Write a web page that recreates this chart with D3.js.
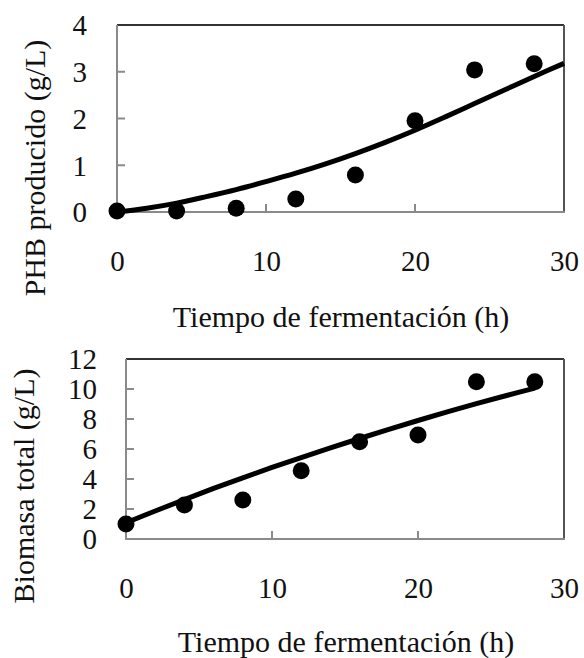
<!DOCTYPE html>
<html>
<head>
<meta charset="utf-8">
<script src="https://cdn.jsdelivr.net/npm/d3@7"></script>
<style>
  html, body { margin: 0; padding: 0; background: #fff; }
  svg { display: block; }
  svg text { font-family: "Liberation Serif", "DejaVu Serif", serif !important; }
</style>
</head>
<body>
<svg id="chart" width="584" height="658"></svg>
<script>
// Fermentation time of the samples (h)
const hours = [0, 4, 8, 12, 16, 20, 24, 28];
// Measured PHB (g/L) and total biomass (g/L)
const phbMeasured = [0.02, 0.02, 0.08, 0.28, 0.79, 1.95, 3.04, 3.17];
const biomassMeasured = [1.0, 2.27, 2.6, 4.55, 6.49, 6.93, 10.49, 10.49];

// Model curves (g/L)
const phbModelHours = [0, 2, 4, 6, 8, 10, 12, 14, 16, 18, 20, 22, 24, 26, 28, 30];
const phbModel = [0.0, 0.08, 0.19, 0.33, 0.48, 0.65, 0.83, 1.03, 1.25, 1.49, 1.75, 2.03, 2.32, 2.61, 2.9, 3.18];
const biomassModelHours = [0, 2, 4, 6, 8, 10, 12, 14, 16, 18, 20, 22, 24, 26, 28];
const biomassModel = [1.08, 1.87, 2.63, 3.37, 4.08, 4.77, 5.43, 6.07, 6.7, 7.31, 7.9, 8.47, 9.02, 9.55, 10.06];

// Axis ticks
const xTicks = [0, 10, 20, 30];
const phbTicks = [0, 1, 2, 3, 4];
const biomassTicks = [0, 2, 4, 6, 8, 10, 12];

const xTitle = "Tiempo de fermentación (h)";

const svg = d3.select("#chart");

function panel(opts) {
  const { left, right, top, bottom, yMax, yTicks, xs, ys, fitX, fitY,
          yTitle, yTitleX, yTitleY, xTitleY, xTitleX, xLabelPad, yLabelPad } = opts;
  const x = d3.scaleLinear().domain([0, 30]).range([left, right]);
  const y = d3.scaleLinear().domain([0, yMax]).range([bottom, top]);
  const g = svg.append("g");

  // inside tick marks
  const tickLen = 8;
  g.append("g").selectAll("line").data(yTicks.slice(1, -1)).join("line")
    .attr("x1", left).attr("x2", left + tickLen)
    .attr("y1", d => y(d)).attr("y2", d => y(d))
    .attr("stroke", "#8a8a8a").attr("stroke-width", 2);
  g.append("g").selectAll("line").data(xTicks.slice(1, -1)).join("line")
    .attr("x1", d => x(d)).attr("x2", d => x(d))
    .attr("y1", bottom).attr("y2", bottom - tickLen)
    .attr("stroke", "#8a8a8a").attr("stroke-width", 2);

  // frame
  g.append("line").attr("x1", left).attr("x2", right).attr("y1", top).attr("y2", top)
    .attr("stroke", "#333").attr("stroke-width", 2);
  g.append("line").attr("x1", right).attr("x2", right).attr("y1", top).attr("y2", bottom)
    .attr("stroke", "#555").attr("stroke-width", 2);
  g.append("line").attr("x1", left).attr("x2", left).attr("y1", top).attr("y2", bottom + 1)
    .attr("stroke", "#8a8a8a").attr("stroke-width", 2);
  g.append("line").attr("x1", left - 1).attr("x2", right + 1).attr("y1", bottom).attr("y2", bottom)
    .attr("stroke", "#8a8a8a").attr("stroke-width", 2);

  // tick labels via d3 axes
  const ya = g.append("g").attr("transform", `translate(${left},0)`)
    .call(d3.axisLeft(y).tickValues(yTicks).tickSize(0).tickPadding(yLabelPad).tickFormat(d3.format("d")));
  ya.attr("font-size", 29);
  ya.select(".domain").remove();
  ya.selectAll("text").attr("fill", "#111").attr("dy", "0.34em");

  const xa = g.append("g").attr("transform", `translate(0,${bottom})`)
    .call(d3.axisBottom(x).tickValues(xTicks).tickSize(0).tickPadding(xLabelPad).tickFormat(d3.format("d")));
  xa.attr("font-size", 29);
  xa.select(".domain").remove();
  xa.selectAll("text").attr("fill", "#111");

  // model curve
  const line = d3.line().x(d => x(d[0])).y(d => y(d[1])).curve(d3.curveCatmullRom);
  g.append("path").datum(fitX.map((t, i) => [t, fitY[i]]))
    .attr("d", line).attr("fill", "none").attr("stroke", "#000")
    .attr("stroke-width", 5).attr("stroke-linecap", "butt");

  // measured points
  g.append("g").selectAll("circle").data(xs.map((t, i) => [t, ys[i]])).join("circle")
    .attr("cx", d => x(d[0])).attr("cy", d => y(d[1])).attr("r", 8.5).attr("fill", "#000");

  // axis titles
  g.append("text").attr("transform", `translate(${yTitleX},${yTitleY}) rotate(-90)`)
    .attr("text-anchor", "middle").attr("font-size", 30)
    .attr("fill", "#111").text(yTitle);
  g.append("text").attr("x", xTitleX).attr("y", xTitleY)
    .attr("text-anchor", "middle").attr("font-size", 30)
    .attr("fill", "#111").text(xTitle);
}

panel({
  left: 117, right: 564, top: 25, bottom: 212, yMax: 4, yTicks: phbTicks,
  xs: hours, ys: phbMeasured, fitX: phbModelHours, fitY: phbModel,
  yTitle: "PHB producido (g/L)", yTitleX: 45, yTitleY: 168,
  xTitleX: 341, xTitleY: 327, xLabelPad: 38, yLabelPad: 30
});

panel({
  left: 126, right: 564, top: 359, bottom: 539, yMax: 12, yTicks: biomassTicks,
  xs: hours, ys: biomassMeasured, fitX: biomassModelHours, fitY: biomassModel,
  yTitle: "Biomasa total (g/L)", yTitleX: 34, yTitleY: 486,
  xTitleX: 346, xTitleY: 652, xLabelPad: 38, yLabelPad: 29
});
</script>
</body>
</html>
